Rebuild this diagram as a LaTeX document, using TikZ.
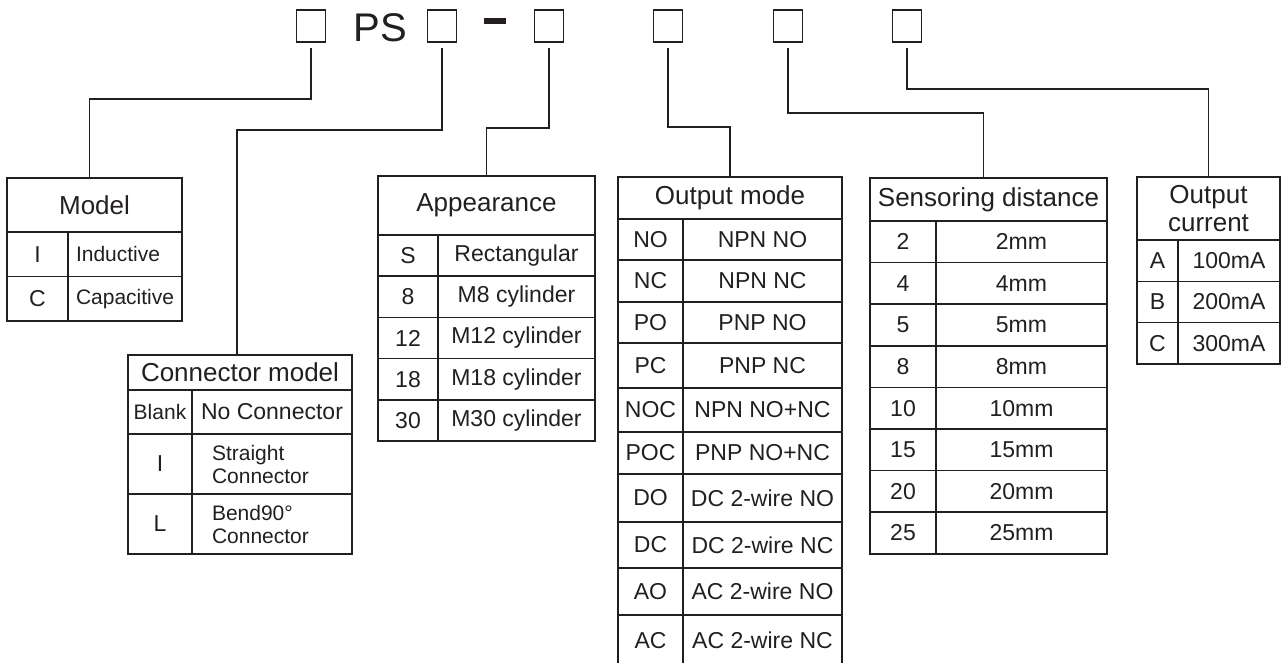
\documentclass[tikz,border=0pt]{standalone}
\usepackage{fontspec}
\setmainfont{Liberation Sans}
\usetikzlibrary{positioning}

\definecolor{ink}{HTML}{231F20}

\tikzset{
  codebox/.style={draw=ink, line width=1.8pt, minimum width=29pt, minimum height=32pt, inner sep=0pt, outer sep=0pt},
  wire/.style={draw=ink, line width=1.4pt},
  wh/.style 2 args={minimum width=#1pt, minimum height=#2pt},
  cell/.style={draw=ink, line width=1.6pt, inner sep=0pt, outer sep=0pt, anchor=north west, text=ink, align=center},
  headcell/.style={cell, font=\fontsize{26}{28}\selectfont},
  keycell/.style={cell, font=\fontsize{23}{26}\selectfont},
  valcell/.style={cell, font=\fontsize{23}{26}\selectfont},
  smallcell/.style={cell, font=\fontsize{21}{23}\selectfont},
}

\begin{document}
\begin{tikzpicture}[x=1pt, y=-1pt]
\useasboundingbox (0,0) rectangle (1282,663);

% type code on top
\node[codebox] (c1) at (311,26) {};
\node[text=ink, font=\fontsize{40}{40}\selectfont, anchor=base, inner sep=0pt] (ps) at (380.5,41.7) {PS};
\node[codebox] (c2) at (442,26) {};
\node[fill=ink, minimum width=22pt, minimum height=6pt, inner sep=0pt] (dash) at (495,21) {};
\node[codebox] (c3) at (549,26) {};
\node[codebox] (c4) at (668,26) {};
\node[codebox] (c5) at (788,26) {};
\node[codebox] (c6) at (907,26) {};

% Model
\node[headcell, wh={175}{54}] (model) at (7,178) {Model};
\node[keycell, wh={61}{44.5}] (model-k1) at (7,232) {I};
\node[smallcell, wh={114}{44.5}, text width=98pt, align=left] (model-v1) at (68,232) {Inductive};
\node[keycell, wh={61}{44.5}] (model-k2) at (7,276.5) {C};
\node[smallcell, wh={114}{44.5}, text width=98pt, align=left] (model-v2) at (68,276.5) {Capacitive};

% Connector model
\node[headcell, wh={224}{35}] (conn) at (128,355) {Connector model};
\node[smallcell, wh={64}{44}] (conn-k1) at (128,390) {Blank};
\node[keycell, wh={160}{44}] (conn-v1) at (192,390) {No Connector};
\node[keycell, wh={64}{60}] (conn-k2) at (128,434) {I};
\node[smallcell, wh={160}{60}, text width=120pt, align=left] (conn-v2) at (192,434) {Straight\\Connector};
\node[keycell, wh={64}{60}] (conn-k3) at (128,494) {L};
\node[smallcell, wh={160}{60}, text width=120pt, align=left] (conn-v3) at (192,494) {Bend90°\\Connector};

% Appearance
\node[headcell, wh={217}{59}] (appear) at (378,176) {Appearance};
\foreach \code/\desc [count=\i] in {S/Rectangular, 8/M8 cylinder, 12/M12 cylinder, 18/M18 cylinder, 30/M30 cylinder} {
  \node[keycell, wh={60}{41.2}] (appear-k\i) at (378,{235+41.2*(\i-1)}) {\code};
  \node[valcell, wh={157}{41.2}] (appear-v\i) at (438,{235+41.2*(\i-1)}) {\desc};
}

% Output mode
\node[headcell, wh={224}{42}] (outmode) at (618,177) {Output mode};
\foreach \code/\desc/\ya/\yb [count=\i] in {NO/NPN NO/219/260, NC/NPN NC/260/302, PO/PNP NO/302/343, PC/PNP NC/343/388,
    NOC/NPN NO+NC/388/432, POC/PNP NO+NC/432/474, DO/DC 2-wire NO/474/522, DC/DC 2-wire NC/522/568,
    AO/AC 2-wire NO/568/615, AC/AC 2-wire NC/615/666} {
  \pgfmathsetmacro\rowh{\yb-\ya}
  \node[keycell, wh={65}{\rowh}] (outmode-k\i) at (618,\ya) {\code};
  \node[valcell, wh={159}{\rowh}] (outmode-v\i) at (683,\ya) {\desc};
}

% Sensoring distance
\node[headcell, wh={237}{43}] (sense) at (870,178) {Sensoring distance};
\foreach \code [count=\i] in {2,4,5,8,10,15,20,25} {
  \node[keycell, wh={66}{41.6}] (sense-k\i) at (870,{221+41.6*(\i-1)}) {\code};
  \node[valcell, wh={171}{41.6}] (sense-v\i) at (936,{221+41.6*(\i-1)}) {\code mm};
}

% Output current
\node[headcell, wh={143}{63}] (current) at (1137,177) {Output\\current};
\foreach \code/\desc [count=\i] in {A/100mA, B/200mA, C/300mA} {
  \node[keycell, wh={41}{41.3}] (current-k\i) at (1137,{240+41.3*(\i-1)}) {\code};
  \node[valcell, wh={102}{41.3}] (current-v\i) at (1178,{240+41.3*(\i-1)}) {\desc};
}

% connectors
\draw[wire] ([yshift=-6pt]c1.south) -- ++(0,51) -| ([xshift=-5pt]model.north);
\draw[wire] ([yshift=-6pt]c2.south) -- ++(0,82) -| ([xshift=-3pt]conn.north);
\draw[wire] ([yshift=-6pt]c3.south) -- ++(0,80) -| (appear.north);
\draw[wire] ([yshift=-6pt]c4.south) -- ++(0,79) -| (outmode.north);
\draw[wire] ([yshift=-6pt]c5.south) -- ++(0,65) -| ([xshift=-5pt]sense.north);
\draw[wire] ([yshift=-6pt]c6.south) -- ++(0,41) -| (current.north);
\end{tikzpicture}
\end{document}
